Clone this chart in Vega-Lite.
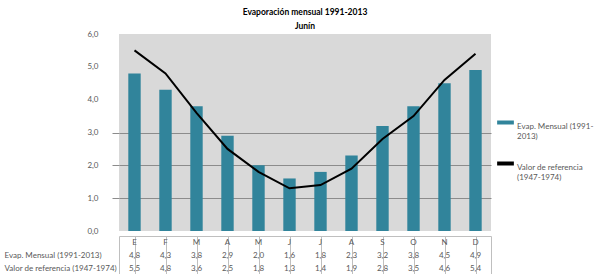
{
  "$schema": "https://vega.github.io/schema/vega-lite/v6.json",
  "padding": {"left": 3, "top": 8, "right": 4, "bottom": 0},
  "data": {
    "values": [
      {"orden": 1, "mes": "E", "evap": 4.8, "ref": 5.5},
      {"orden": 2, "mes": "F", "evap": 4.3, "ref": 4.8},
      {"orden": 3, "mes": "M", "evap": 3.8, "ref": 3.6},
      {"orden": 4, "mes": "A", "evap": 2.9, "ref": 2.5},
      {"orden": 5, "mes": "M", "evap": 2.0, "ref": 1.8},
      {"orden": 6, "mes": "J", "evap": 1.6, "ref": 1.3},
      {"orden": 7, "mes": "J", "evap": 1.8, "ref": 1.4},
      {"orden": 8, "mes": "A", "evap": 2.3, "ref": 1.9},
      {"orden": 9, "mes": "S", "evap": 3.2, "ref": 2.8},
      {"orden": 10, "mes": "O", "evap": 3.8, "ref": 3.5},
      {"orden": 11, "mes": "N", "evap": 4.5, "ref": 4.6},
      {"orden": 12, "mes": "D", "evap": 4.9, "ref": 5.4}
    ]
  },
  "spacing": 0,
  "vconcat": [
    {
      "width": 372,
      "height": 197,
      "title": {
        "text": "Evaporación mensual 1991-2013",
        "subtitle": "Junín",
        "anchor": "middle",
        "frame": "group",
        "fontSize": 8.5,
        "fontWeight": "bold",
        "color": "#000000",
        "subtitleFontSize": 8.5,
        "subtitleFontWeight": "bold",
        "subtitleColor": "#000000",
        "subtitlePadding": 5,
        "offset": 0
      },
      "view": {"fill": "#d9d9d9", "stroke": null},
      "encoding": {
        "x": {"field": "orden", "type": "ordinal", "axis": null, "scale": {"paddingInner": 0.6, "paddingOuter": 0.3}}
      },
      "layer": [
        {
          "mark": {"type": "bar"},
          "encoding": {
            "y": {
              "field": "evap", "type": "quantitative",
              "scale": {"domain": [0, 6]},
              "axis": {
                "title": null,
                "values": [0, 1, 2, 3, 4, 5, 6],
                "labelOverlap": false,
                "format": ".1f",
                "domain": false,
                "tickSize": 7,
                "tickColor": {"condition": {"test": "datum.value >= 1 && datum.value <= 3", "value": "#8c8c8c"}, "value": "transparent"},
                "gridColor": {"condition": {"test": "datum.value >= 1 && datum.value <= 3", "value": "#8c8c8c"}, "value": "transparent"},
                "grid": true,
                "labelPadding": 14,
                "labelFontSize": 8,
                "labelColor": "#595959"
              }
            },
            "color": {
              "datum": "Evap. Mensual (1991-2013)",
              "type": "nominal",
              "scale": {"domain": ["Evap. Mensual (1991-2013)", "Valor de referencia (1947-1974)"], "range": ["#31849b", "#000000"]},
              "legend": {
                "title": null,
                "orient": "none",
                "legendX": 376,
                "legendY": 78,
                "symbolType": "stroke",
                "symbolStrokeWidth": 4,
                "symbolSize": 280,
                "labelFontSize": 8,
                "labelColor": "#595959",
                "rowPadding": 12,
                "labelOffset": 1,
                "labelBaseline": "top",
                "labelExpr": "datum.value == 'Evap. Mensual (1991-2013)' ? ['Evap. Mensual (1991-', '2013)'] : ['Valor de referencia', '(1947-1974)']"
              }
            }
          }
        },
        {
          "mark": {"type": "line", "strokeWidth": 2},
          "encoding": {
            "y": {
              "field": "ref", "type": "quantitative",
              "axis": {
                "title": null,
                "values": [0, 1, 2, 3, 4, 5, 6],
                "labelOverlap": false,
                "format": ".1f",
                "domain": false,
                "tickSize": 7,
                "tickColor": {"condition": {"test": "datum.value >= 1 && datum.value <= 3", "value": "#8c8c8c"}, "value": "transparent"},
                "gridColor": {"condition": {"test": "datum.value >= 1 && datum.value <= 3", "value": "#8c8c8c"}, "value": "transparent"},
                "grid": true,
                "labelPadding": 14,
                "labelFontSize": 8,
                "labelColor": "#595959"
              }
            },
            "color": {"datum": "Valor de referencia (1947-1974)", "type": "nominal"}
          }
        }
      ]
    },
    {
      "width": 372,
      "height": 39,
      "view": {"stroke": "#bfbfbf"},
      "encoding": {
        "x": {
          "field": "orden", "type": "ordinal",
          "axis": {"orient": "top", "title": null, "labels": false, "ticks": false, "domain": false, "grid": true, "gridColor": "#bfbfbf", "bandPosition": 0}
        }
      },
      "layer": [
        {
          "mark": {"type": "text", "fontSize": 8, "color": "#595959"},
          "encoding": {
            "y": {
              "datum": "Mes", "type": "nominal",
              "scale": {"domain": ["Mes", "Evap. Mensual (1991-2013)", "Valor de referencia (1947-1974)"], "paddingOuter": 0.1, "paddingInner": 0},
              "axis": {"title": null, "domain": false, "ticks": false, "labelAlign": "left", "labelPadding": 115, "labelFontSize": 8, "labelColor": "#595959", "labelExpr": "datum.value == 'Mes' ? '' : datum.value"}
            },
            "text": {"field": "mes"}
          }
        },
        {
          "mark": {"type": "text", "fontSize": 8, "color": "#595959"},
          "encoding": {
            "y": {"datum": "Evap. Mensual (1991-2013)", "type": "nominal"},
            "text": {"field": "evap", "type": "quantitative", "format": ".1f"}
          }
        },
        {
          "mark": {"type": "text", "fontSize": 8, "color": "#595959"},
          "encoding": {
            "y": {"datum": "Valor de referencia (1947-1974)", "type": "nominal"},
            "text": {"field": "ref", "type": "quantitative", "format": ".1f"}
          }
        }
      ]
    }
  ],
  "config": {
    "font": "Lato",
    "locale": {"number": {"decimal": ",", "thousands": ".", "grouping": [3], "currency": ["", " €"]}}
  }
}
